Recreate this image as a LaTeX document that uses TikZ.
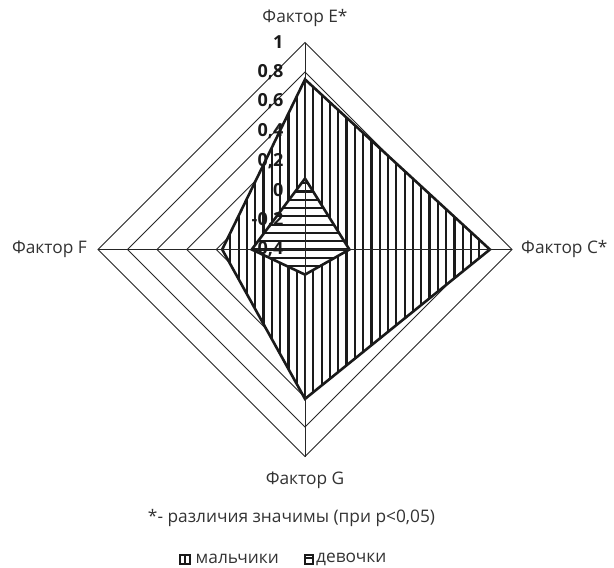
\documentclass[tikz,border=0pt]{standalone}
\usepackage{fontspec}
\setmainfont{Open Sans}
\definecolor{txt}{HTML}{333333}
\definecolor{ln}{HTML}{1A1A1A}
\definecolor{gl}{HTML}{262626}
\begin{document}
\begin{tikzpicture}[x=1pt,y=-1pt,
  grid/.style={draw=gl,line width=0.9pt},
  spoke/.style={draw=gl,line width=0.9pt},
  outline/.style={draw=ln,line width=2.6pt,line join=miter},
  hatch/.style={draw=ln,line width=2.2pt},
  cat/.style={font=\fontsize{17.3}{20}\selectfont,text=txt,inner sep=0pt},
  num/.style={font=\fontsize{18}{20}\selectfont\bfseries,text=ln,inner sep=0pt,anchor=east},
  legbox/.style={draw=ln,line width=2pt}]
\useasboundingbox (0,0) rectangle (614,568);
\fill[white] (0,0) rectangle (614,568);
\def\cx{305}\def\cy{249.5}
\coordinate (O) at (\cx,\cy);
% rings
\foreach \v in {1,0.8,0.6,0.4,0.2,0,-0.2} {
  \pgfmathsetmacro\r{(\v+0.4)*147.9}
  \draw[grid] (\cx,\cy-\r) -- (\cx+\r,\cy) -- (\cx,\cy+\r) -- (\cx-\r,\cy) -- cycle;
}
% boys polygon
\coordinate (bE) at (305,79.4);
\coordinate (bC) at (489.9,249.5);
\coordinate (bG) at (305,398.9);
\coordinate (bF) at (222.2,249.5);
\fill[white] (bE) -- (bC) -- (bG) -- (bF) -- cycle;
\begin{scope}
  \clip (bE) -- (bC) -- (bG) -- (bF) -- cycle;
  \foreach \i in {-14,...,24} {
    \draw[hatch] (305+\i*8.3,60) -- (305+\i*8.3,420);
  }
\end{scope}
\draw[outline] (bE) -- (bC) -- (bG) -- (bF) -- cycle;
% girls polygon
\coordinate (gE) at (305,178.5);
\coordinate (gC) at (349.4,249.5);
\coordinate (gG) at (305,274.6);
\coordinate (gF) at (251.8,249.5);
\fill[white] (gE) -- (gC) -- (gG) -- (gF) -- cycle;
\begin{scope}
  \clip (gE) -- (gC) -- (gG) -- (gF) -- cycle;
  \foreach \i in {-10,...,12} {
    \draw[hatch] (240,249.5+\i*8.3) -- (360,249.5+\i*8.3);
  }
\end{scope}
\draw[outline] (gE) -- (gC) -- (gG) -- (gF) -- cycle;
% spokes
\coordinate (tE) at (305,42.5);
\coordinate (tC) at (512,249.5);
\coordinate (tG) at (305,456.5);
\coordinate (tF) at (98,249.5);
\draw[spoke] (O) -- (tE) (O) -- (tC) (O) -- (tG) (O) -- (tF);
% value labels
\foreach \v/\t [count=\k] in {1/1,0.8/{0,8},0.6/{0,6},0.4/{0,4},0.2/{0,2},0/0,-0.2/{-0,2},-0.4/{-0,4}} {
  \pgfmathsetmacro\yy{\cy-(\v+0.4)*147.9}
  \node[num] (n\k) at (283.5,\yy) {\t};
}
% category labels
\node[cat] (lE) at (305,18) {Фактор E*};
\node[cat,anchor=east] (lF) at (87,249.5) {Фактор F};
\node[cat,anchor=west] (lC) at (521,249.5) {Фактор C*};
\node[cat] (lG) at (305,480) {Фактор G};
\node[cat] (foot) at (291.5,518) {*- различия значимы (при p<0,05)};
% legend
\draw[legbox] (179.5,555) rectangle (189.5,563.5);
\draw[ln,line width=2pt] (184.5,555) -- (184.5,563.5);
\node[cat,anchor=west] (lb) at (195.5,559) {мальчики};
\draw[legbox] (304.5,555) rectangle (313,563.5);
\draw[ln,line width=2pt] (304.5,558) -- (313,558);
\node[cat,anchor=west] (lg) at (316,559) {девочки};
\end{tikzpicture}
\end{document}
